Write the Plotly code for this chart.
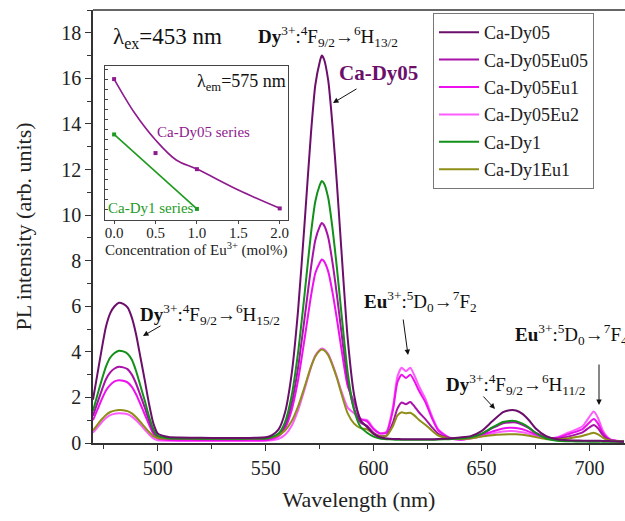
import plotly.graph_objects as go

# ---------------- data ----------------
wavelength = [470,472,474,476,478,480,482,484,486,488,490,492,494,496,498,500,
              505,510,520,530,540,545,
              550,553,556,559,562,565,568,571,573,575,576,577,579,581,583,585,588,591,594,597,600,603,606,
              609,611,613,615,617,619,621,624,627,630,635,640,
              645,650,655,660,663,666,669,672,675,680,685,
              690,694,697,700,702,704,706,708,710,713,716]

ca_dy05 = [1.9,3.0,4.1,5.1,5.7,6.0,6.15,6.1,5.95,5.5,4.75,3.75,2.75,1.7,0.85,0.42,
           0.26,0.24,0.23,0.22,0.22,0.23,
           0.25,0.35,0.6,1.35,3.0,5.8,9.6,13.6,15.7,16.7,17.0,16.85,15.9,13.9,11.4,8.6,4.6,2.1,1.0,0.7,0.4,0.25,0.2,
           0.18,0.18,0.17,0.17,0.17,0.17,0.17,0.17,0.17,0.18,0.2,0.24,
           0.3,0.52,0.95,1.35,1.44,1.43,1.28,1.0,0.65,0.3,0.16,
           0.12,0.11,0.1,0.1,0.1,0.1,0.09,0.09,0.08,0.07,0.06]

ca_dy05eu05 = [1.2,1.75,2.3,2.8,3.1,3.27,3.35,3.32,3.24,3.0,2.6,2.08,1.55,0.98,0.5,0.28,
               0.2,0.18,0.17,0.17,0.17,0.18,
               0.18,0.24,0.36,0.78,1.72,3.3,5.45,7.7,8.9,9.48,9.65,9.56,9.02,7.9,6.5,4.95,2.75,1.5,0.9,0.75,0.45,0.3,0.32,
               0.9,1.5,1.78,1.7,1.8,1.6,1.35,1.05,0.7,0.4,0.22,0.18,
               0.25,0.4,0.65,0.87,0.9,0.9,0.8,0.65,0.45,0.25,0.2,
               0.28,0.38,0.48,0.68,0.79,0.65,0.38,0.2,0.12,0.09,0.07]

ca_dy05eu1 = [1.0,1.45,1.9,2.3,2.55,2.7,2.75,2.73,2.66,2.46,2.13,1.7,1.25,0.8,0.4,0.2,
              0.13,0.12,0.12,0.12,0.12,0.12,
              0.12,0.18,0.3,0.65,1.43,2.75,4.55,6.45,7.45,7.9,8.05,7.98,7.52,6.6,5.45,4.2,2.5,1.8,1.05,0.95,0.6,0.42,0.45,
              1.45,2.65,3.0,2.85,3.0,2.7,2.3,1.8,1.1,0.55,0.23,0.14,
              0.22,0.35,0.5,0.64,0.67,0.66,0.6,0.5,0.38,0.22,0.22,
              0.38,0.5,0.62,0.9,1.05,0.85,0.48,0.25,0.13,0.09,0.07]

ca_dy05eu2 = [0.45,0.68,0.9,1.1,1.22,1.28,1.3,1.29,1.26,1.16,1.0,0.8,0.58,0.37,0.2,0.12,
              0.1,0.09,0.09,0.09,0.09,0.09,
              0.1,0.12,0.18,0.36,0.75,1.43,2.35,3.32,3.84,4.08,4.15,4.12,3.9,3.45,2.9,2.3,1.55,1.3,1.05,1.0,0.65,0.42,0.5,
              1.6,2.9,3.3,3.15,3.3,2.95,2.5,1.95,1.2,0.6,0.25,0.15,
              0.2,0.3,0.42,0.5,0.53,0.52,0.47,0.4,0.32,0.2,0.25,
              0.45,0.6,0.75,1.15,1.38,1.1,0.6,0.3,0.15,0.1,0.08]

ca_dy1 = [1.4,2.1,2.75,3.35,3.75,3.95,4.05,4.02,3.92,3.65,3.15,2.5,1.85,1.15,0.6,0.32,
          0.21,0.2,0.19,0.19,0.19,0.2,
          0.2,0.27,0.42,0.92,2.05,3.95,6.5,9.2,10.6,11.3,11.5,11.4,10.75,9.4,7.7,5.8,3.1,1.45,0.7,0.45,0.28,0.2,0.17,
          0.15,0.14,0.14,0.14,0.14,0.14,0.14,0.14,0.14,0.15,0.17,0.2,
          0.25,0.4,0.68,0.92,0.97,0.96,0.85,0.68,0.45,0.2,0.1,
          0.08,0.07,0.07,0.06,0.06,0.06,0.06,0.05,0.05,0.05,0.05]

ca_dy1eu1 = [0.55,0.8,1.03,1.23,1.36,1.42,1.45,1.44,1.4,1.3,1.13,0.92,0.7,0.48,0.3,0.22,
             0.2,0.2,0.19,0.19,0.19,0.2,
             0.2,0.25,0.35,0.55,0.95,1.6,2.45,3.35,3.8,4.05,4.1,4.07,3.85,3.4,2.85,2.2,1.3,0.85,0.65,0.6,0.4,0.3,0.32,
             0.75,1.2,1.35,1.3,1.33,1.2,1.02,0.8,0.55,0.33,0.2,0.18,
             0.2,0.28,0.34,0.37,0.38,0.38,0.36,0.32,0.26,0.17,0.17,
             0.2,0.26,0.32,0.4,0.45,0.38,0.25,0.15,0.1,0.08,0.07]

series_names = ["Ca-Dy05", "Ca-Dy05Eu05", "Ca-Dy05Eu1", "Ca-Dy05Eu2", "Ca-Dy1", "Ca-Dy1Eu1"]
series_values = [ca_dy05, ca_dy05eu05, ca_dy05eu1, ca_dy05eu2, ca_dy1, ca_dy1eu1]
series_colors = ["#6B0F6B", "#A812A8", "#EE10EE", "#FF5CFF", "#12901A", "#8E8E18"]

# inset data
eu_conc_dy05 = [0.0, 0.5, 1.0, 2.0]
int_dy05 = [17.0, 9.65, 8.05, 4.15]
eu_conc_dy1 = [0.0, 1.0]
int_dy1 = [11.5, 4.1]
fit_conc_dy05 = [0.0, 0.25, 0.5, 0.75, 1.0, 1.5, 2.0]
fit_int_dy05 = [17.0, 13.6, 10.95, 8.96, 8.06, 5.98, 4.16]

FONT = "Times New Roman, Liberation Serif, serif"
fig = go.Figure()

order = [3, 2, 1, 5, 4, 0]
for i in order:
    fig.add_trace(go.Scatter(x=wavelength, y=series_values[i], mode="lines", name=series_names[i],
                             legendgroup=series_names[i],
                             line=dict(color=series_colors[i], width=2, shape="spline", smoothing=0.6),
                             legendrank=i + 1))

# inset traces
fig.add_trace(go.Scatter(x=fit_conc_dy05, y=fit_int_dy05, mode="lines", xaxis="x2", yaxis="y2",
                         line=dict(color="#8E1A8E", width=1.6, shape="spline"), showlegend=False))
fig.add_trace(go.Scatter(x=eu_conc_dy05, y=int_dy05, mode="markers", xaxis="x2", yaxis="y2",
                         marker=dict(color="#8E1A8E", size=4, symbol="square"), showlegend=False))
fig.add_trace(go.Scatter(x=eu_conc_dy1, y=int_dy1, mode="lines+markers", xaxis="x2", yaxis="y2",
                         line=dict(color="#1E9A1E", width=1.6),
                         marker=dict(color="#1E9A1E", size=4, symbol="square"), showlegend=False))

L, R, T, B = 93, 625, 10, 443
W, H = 625, 521
def px(x):
    return (x - L) / (R - L)
def py(y):
    return (B - y) / (B - T)

axis_col = "#333333"
fig.update_layout(
    width=W, height=H,
    margin=dict(l=L, r=W - R, t=T, b=H - B, autoexpand=False),
    paper_bgcolor="white", plot_bgcolor="white",
    font=dict(family=FONT, color="#222222"),
    showlegend=True,
    legend=dict(x=px(433), y=py(13), xanchor="left", yanchor="top",
                font=dict(family=FONT, size=18, color="#222"),
                bordercolor="#777777", borderwidth=1, bgcolor="white",
                tracegroupgap=1, itemwidth=40),
    xaxis=dict(range=[470, 716.5], showgrid=False, zeroline=False, automargin=False,
               showline=True, linecolor=axis_col, linewidth=1.6, mirror=False,
               ticks="outside", ticklen=6, tickwidth=1.3, tickcolor=axis_col,
               tick0=500, dtick=50,
               minor=dict(ticks="outside", ticklen=4, tickwidth=1.3, tickcolor=axis_col, dtick=25, tick0=475),
               tickfont=dict(family=FONT, size=20, color="#222"),
               title=dict(text="Wavelength (nm)", font=dict(family=FONT, size=22, color="#222"), standoff=14)),
    yaxis=dict(range=[0, 19], showgrid=False, zeroline=False, automargin=False,
               showline=True, linecolor=axis_col, linewidth=1.6, mirror=False,
               ticks="outside", ticklen=6, tickwidth=1.3, tickcolor=axis_col,
               tick0=0, dtick=2,
               minor=dict(ticks="outside", ticklen=4, tickwidth=1.3, tickcolor=axis_col, dtick=1),
               tickfont=dict(family=FONT, size=20, color="#222"),
               title=dict(text="PL intensity (arb. units)", font=dict(family=FONT, size=22, color="#222"), standoff=24)),
    xaxis2=dict(domain=[px(105), px(288)], anchor="y2", range=[-0.11, 2.1], automargin=False,
                showgrid=False, zeroline=False, showline=True, mirror=True,
                linecolor="#444", linewidth=1, ticks="outside", ticklen=3, tickcolor="#444",
                tickvals=[0, 0.5, 1.0, 1.5, 2.0], ticktext=["0.0", "0.5", "1.0", "1.5", "2.0"],
                ticklabelstandoff=-4,
                tickfont=dict(family=FONT, size=15, color="#222")),
    yaxis2=dict(domain=[py(220), py(66)], anchor="x2", range=[3.0, 18.3], automargin=False,
                showgrid=False, zeroline=False, showline=True, mirror=True,
                linecolor="#444", linewidth=1, ticks="inside", ticklen=3, tickcolor="#444",
                dtick=1, showticklabels=False),
)

fig.add_shape(type="line", xref="paper", yref="paper", x0=0, x1=1, y0=1, y1=1,
              line=dict(color=axis_col, width=1.6))

def note(text, x, y, size=16, color="#111", xanchor="center"):
    fig.add_annotation(text=text, xref="paper", yref="paper", x=px(x), y=py(y),
                       xanchor=xanchor, yanchor="middle", showarrow=False,
                       font=dict(family=FONT, size=size, color=color))

def arrow(hx, hy, tx, ty):
    fig.add_annotation(text="", xref="paper", yref="paper", x=px(hx), y=py(hy),
                       ax=tx - hx, ay=ty - hy, showarrow=True,
                       arrowhead=2, arrowsize=1.1, arrowwidth=1, arrowcolor="#111")

note("λ<sub>ex</sub>=453 nm", 167, 38, size=23)
note("<b>Dy</b><sup>3+</sup>:<sup>4</sup>F<sub>9/2</sub>→<sup>6</sup>H<sub>13/2</sub>", 328, 36, size=19)
note("<b>Ca-Dy05</b>", 378, 73, size=21, color="#6B0F6B")
arrow(333, 103, 358, 88)
note("<b>Dy</b><sup>3+</sup>:<sup>4</sup>F<sub>9/2</sub>→<sup>6</sup>H<sub>15/2</sub>", 210, 314, size=19)
arrow(143, 336, 162, 325)
note("<b>Eu</b><sup>3+</sup>:<sup>5</sup>D<sub>0</sub>→<sup>7</sup>F<sub>2</sub>", 420, 301, size=19)
arrow(408, 355, 403, 318)
note("<b>Dy</b><sup>3+</sup>:<sup>4</sup>F<sub>9/2</sub>→<sup>6</sup>H<sub>11/2</sub>", 515, 384, size=19)
arrow(495, 409, 482, 395)
note("<b>Eu</b><sup>3+</sup>:<sup>5</sup>D<sub>0</sub>→<sup>7</sup>F<sub>4</sub>", 513, 334, size=19, xanchor="left")
arrow(599, 405, 599, 363)

note("λ<sub>em</sub>=575 nm", 241, 82, size=18)
note("Ca-Dy05 series", 203, 132, size=15, color="#8E1A8E")
note("Ca-Dy1 series", 151, 208, size=15, color="#1E9A1E")
note("Concentration of Eu<sup>3+</sup> (mol%)", 196, 249, size=15, color="#222")

fig.write_html("out.html", post_script="document.body.style.margin='0px';",
               config={"displayModeBar": False})
